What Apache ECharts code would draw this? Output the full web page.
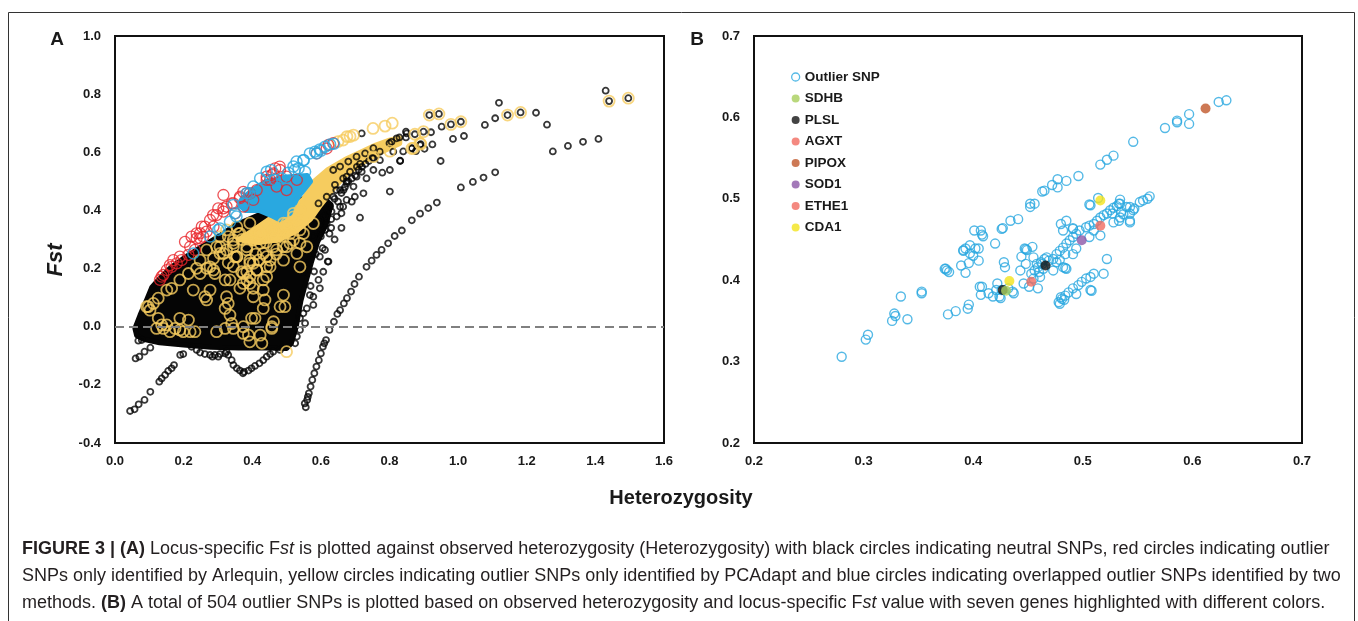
<!DOCTYPE html>
<html>
<head>
<meta charset="utf-8">
<title>Figure 3</title>
<script src="https://cdn.jsdelivr.net/npm/echarts@6.0.0/dist/echarts.min.js"></script>
<style>
  html, body { margin: 0; background: #fff; }
  #chart { width: 1358px; height: 621px; }
</style>
</head>
<body>
<div id="chart"></div>
<script>
// ---- panel A: heterozygosity vs Fst ----
// dense core of neutral SNPs (outline of the solid black cloud)
const neutralCore = [[0.058,-0.006],[0.073,0.040],[0.092,0.092],[0.107,0.135],[0.126,0.161],[0.160,0.201],[0.199,0.235],[0.238,0.264],[0.277,0.293],[0.316,0.321],[0.350,0.350],[0.420,0.385],[0.500,0.420],[0.560,0.445],[0.600,0.450],[0.630,0.420],[0.615,0.350],[0.590,0.290],[0.572,0.220],[0.558,0.160],[0.542,0.090],[0.528,0.000],[0.514,-0.057],[0.500,-0.075],[0.440,-0.073],[0.360,-0.073],[0.280,-0.071],[0.200,-0.063],[0.130,-0.055],[0.083,-0.043],[0.063,-0.030]];

const neutralPoints = [
  [0.044,-0.290],[0.057,-0.284],[0.069,-0.267],[0.086,-0.252],[0.103,-0.224],[0.129,-0.189],[0.136,-0.178],[0.146,-0.166],[0.155,-0.152],[0.165,-0.143],[0.172,-0.132],[0.190,-0.097],[0.199,-0.094],[0.060,-0.109],[0.071,-0.103],[0.086,-0.086],[0.103,-0.072],[0.068,-0.048],[0.078,-0.046],
  [0.223,-0.069],[0.238,-0.080],[0.248,-0.089],[0.262,-0.094],[0.277,-0.097],[0.291,-0.097],[0.306,-0.094],[0.321,-0.092],[0.330,-0.097],[0.340,-0.115],[0.345,-0.132],[0.355,-0.143],[0.364,-0.151],[0.376,-0.155],[0.389,-0.151],[0.398,-0.143],[0.408,-0.135],[0.421,-0.126],[0.432,-0.115],[0.442,-0.103],[0.452,-0.094],[0.461,-0.086],[0.481,-0.080],[0.325,-0.086],[0.301,-0.103],[0.284,-0.103],[0.373,-0.160],
  [0.556,-0.277],[0.553,-0.264],[0.560,-0.252],[0.562,-0.241],[0.565,-0.229],[0.570,-0.206],[0.575,-0.183],[0.581,-0.160],[0.587,-0.137],[0.594,-0.115],[0.600,-0.092],[0.606,-0.069],[0.610,-0.057],[0.615,-0.046],[0.625,-0.011],[0.638,0.017],[0.648,0.044],[0.656,0.057],[0.667,0.080],[0.676,0.098],[0.688,0.121],[0.698,0.147],[0.711,0.172],[0.733,0.206],[0.748,0.227],[0.762,0.247],[0.777,0.264],[0.796,0.287],[0.815,0.312],[0.836,0.331],[0.865,0.366],[0.889,0.389],[0.913,0.408],[0.938,0.427],[1.008,0.479],[1.043,0.498],[1.074,0.513],[1.108,0.531],
  [1.430,0.812],[1.440,0.776],[1.496,0.786],[1.119,0.770],[1.108,0.717],[1.078,0.694],[1.182,0.737],[1.144,0.728],[1.227,0.736],[1.259,0.695],[1.276,0.603],[1.320,0.622],[1.364,0.636],[1.409,0.646],[1.008,0.705],[0.979,0.696],[0.952,0.688],[0.944,0.732],[0.916,0.728],[0.899,0.671],[0.874,0.662],[0.848,0.671],[0.848,0.651],[0.921,0.669],[0.925,0.627],[0.891,0.628],[0.865,0.613],[0.877,0.604],[0.902,0.612],[0.840,0.603],[0.985,0.646],[1.017,0.656],[0.949,0.570],[0.831,0.570],
  [0.719,0.665],[0.800,0.631],[0.806,0.636],[0.829,0.651],[0.850,0.665],[0.772,0.573],[0.753,0.539],[0.779,0.530],[0.801,0.539],[0.831,0.571],[0.714,0.560],[0.719,0.533],[0.685,0.533],[0.733,0.510],[0.665,0.510],[0.801,0.465],[0.714,0.375],[0.675,0.436],[0.724,0.459],[0.620,0.224],[0.593,0.161],[0.646,0.379],[0.656,0.413],[0.617,0.356],[0.636,0.447],[0.666,0.470],[0.695,0.482],[0.704,0.516],[0.699,0.447],[0.665,0.413],[0.631,0.396],[0.675,0.493],[0.753,0.579],[0.772,0.602],[0.821,0.648],[0.811,0.602],[0.889,0.625],[0.865,0.614],
  [0.622,0.224],[0.568,0.109],[0.559,0.063],[0.539,0.029],[0.539,-0.011],[0.554,0.012],[0.578,0.103],[0.607,0.189],[0.597,0.132],[0.530,-0.034],[0.525,-0.057],[0.549,0.046],[0.578,0.075],[0.568,0.230],[0.597,0.241],[0.612,0.264],[0.640,0.300],[0.660,0.340],[0.600,0.310],[0.630,0.340],
  [0.620,0.400],[0.640,0.440],[0.660,0.460],[0.680,0.500],[0.700,0.520],[0.720,0.550],[0.740,0.570],[0.630,0.370],[0.650,0.430],[0.670,0.480],[0.690,0.510],[0.710,0.540],[0.730,0.560],[0.750,0.580],[0.610,0.380],[0.645,0.470],[0.675,0.500],[0.705,0.550],[0.660,0.390],[0.690,0.430],[0.600,0.330],[0.625,0.320],[0.605,0.270],[0.585,0.250],[0.580,0.190],[0.570,0.140],
  [0.636,0.539],[0.656,0.551],[0.680,0.568],[0.704,0.585],[0.729,0.596],[0.753,0.614],[0.675,0.516],[0.641,0.488],[0.617,0.447],[0.593,0.424],[0.656,0.470],[0.627,0.413],[0.597,0.367],[0.612,0.333],[0.578,0.310],[0.568,0.264],[0.558,0.218],[0.549,0.189]
];

// solid part of the PCAdapt-only band
const pcadaptBand = [[0.360,0.300],[0.400,0.330],[0.450,0.370],[0.500,0.390],[0.550,0.440],[0.580,0.500],[0.620,0.540],[0.670,0.575],[0.720,0.603],[0.760,0.625],[0.800,0.642],[0.830,0.650],[0.830,0.630],[0.780,0.603],[0.730,0.570],[0.680,0.530],[0.640,0.480],[0.600,0.420],[0.570,0.370],[0.530,0.330],[0.480,0.300],[0.420,0.290]];

const pcadaptPoints = [
  [0.097,0.069],[0.112,0.080],[0.126,0.098],[0.151,0.126],[0.165,0.132],[0.189,0.161],[0.214,0.183],[0.228,0.126],[0.238,0.201],[0.267,0.201],[0.287,0.235],[0.291,0.183],[0.262,0.103],[0.267,0.092],[0.277,0.126],[0.321,0.161],[0.325,0.103],[0.330,0.080],[0.321,0.063],[0.335,0.040],[0.340,0.011],[0.345,-0.006],[0.364,0.132],[0.384,0.161],[0.403,0.132],[0.403,0.103],[0.432,0.126],[0.437,0.092],[0.432,0.063],[0.491,0.109],[0.481,0.069],[0.495,0.069],[0.462,0.017],[0.457,0.000],[0.398,0.029],[0.408,0.029],[0.374,0.000],[0.374,-0.023],[0.389,-0.029],[0.423,-0.029],[0.393,-0.052],[0.428,-0.057],[0.296,-0.017],[0.321,-0.006],[0.126,0.029],[0.121,-0.006],[0.141,-0.006],[0.151,0.006],[0.160,-0.017],[0.175,-0.006],[0.189,0.029],[0.189,-0.011],[0.199,-0.017],[0.214,0.023],[0.219,-0.017],[0.233,-0.017],[0.136,0.006],[0.102,0.057],[0.092,0.069],[0.500,-0.086],[0.457,-0.006],
  [0.306,0.275],[0.345,0.287],[0.355,0.241],[0.384,0.189],[0.369,0.189],[0.403,0.218],[0.442,0.206],[0.452,0.229],[0.462,0.275],[0.500,0.275],[0.520,0.298],[0.539,0.333],[0.325,0.264],[0.384,0.264],[0.423,0.287],[0.413,0.321],[0.462,0.333],[0.491,0.356],[0.355,0.344],[0.393,0.356],[0.520,0.390],[0.374,0.149],[0.393,0.172],[0.442,0.172],[0.413,0.195],
  [0.267,0.264],[0.306,0.252],[0.345,0.275],[0.384,0.304],[0.423,0.321],[0.461,0.333],[0.500,0.344],[0.529,0.367],[0.287,0.195],[0.345,0.207],[0.393,0.218],[0.442,0.241],[0.490,0.275],[0.539,0.287],[0.432,0.161],
  [0.330,0.310],[0.360,0.320],[0.370,0.300],[0.400,0.300],[0.440,0.290],[0.470,0.310],[0.510,0.320],[0.350,0.240],[0.410,0.250],[0.470,0.250],[0.330,0.220],[0.420,0.230],
  [0.306,0.310],[0.325,0.333],[0.345,0.298],[0.364,0.321],[0.384,0.275],[0.403,0.298],[0.423,0.321],[0.442,0.344],[0.462,0.310],[0.481,0.333],[0.500,0.356],[0.520,0.378],[0.539,0.401],[0.316,0.252],[0.355,0.241],[0.393,0.229],[0.432,0.252],[0.471,0.264],[0.510,0.287],[0.549,0.321],[0.578,0.355],[0.374,0.183],[0.413,0.195],[0.452,0.206],[0.491,0.229],[0.530,0.252],[0.335,0.161],[0.393,0.149],[0.277,0.206],[0.248,0.183],[0.296,0.275],[0.248,0.229],[0.559,0.275],[0.539,0.206],
  [0.752,0.682],[0.787,0.690],[0.808,0.700],[0.695,0.659],[0.676,0.654],[0.650,0.637],[0.665,0.642],[0.685,0.654],[0.753,0.585],[0.801,0.604],[0.870,0.614],[0.889,0.631],
  [1.440,0.776],[1.496,0.786],[1.182,0.737],[1.144,0.728],[1.008,0.705],[0.979,0.696],[0.944,0.732],[0.916,0.728],[0.899,0.671],[0.874,0.662],[0.891,0.628],[0.865,0.613]
];

const arlequinPoints = [[0.131,0.161],[0.141,0.178],[0.151,0.195],[0.165,0.206],[0.180,0.218],[0.194,0.229],[0.214,0.247],[0.233,0.264],[0.223,0.310],[0.248,0.304],[0.267,0.327],[0.287,0.344],[0.296,0.384],[0.316,0.396],[0.325,0.413],[0.170,0.229],[0.204,0.292],[0.238,0.321],[0.253,0.344],[0.277,0.367],[0.301,0.407],[0.136,0.172],[0.160,0.212],[0.189,0.241],[0.219,0.275],[0.238,0.304],[0.248,0.321],[0.345,0.424],[0.364,0.447],[0.384,0.459],[0.413,0.470],[0.442,0.516],[0.462,0.527],[0.481,0.539],[0.500,0.516],[0.530,0.505],[0.588,0.596],[0.617,0.613],[0.636,0.631],[0.316,0.453],[0.374,0.464],[0.403,0.436],[0.452,0.505],[0.471,0.482],[0.500,0.470],[0.467,0.545],[0.480,0.551],[0.457,0.522],[0.622,0.625],[0.364,0.442],[0.340,0.424],[0.316,0.407],[0.286,0.384],[0.262,0.344],[0.257,0.310],[0.350,0.390],[0.393,0.459],[0.374,0.413],[0.442,0.505]];

// dense overlap cloud (both methods)
const overlapCore = [[0.365,0.415],[0.370,0.440],[0.400,0.470],[0.440,0.500],[0.500,0.515],[0.560,0.520],[0.570,0.500],[0.530,0.440],[0.510,0.390],[0.480,0.368],[0.460,0.380],[0.420,0.400],[0.380,0.400]];

const overlapPoints = [[0.568,0.596],[0.583,0.602],[0.597,0.610],[0.612,0.619],[0.627,0.627],[0.638,0.629],[0.549,0.573],[0.529,0.568],[0.520,0.551],[0.554,0.533],[0.486,0.510],[0.466,0.505],[0.442,0.533],[0.423,0.510],[0.403,0.482],[0.384,0.459],[0.374,0.424],[0.354,0.379],[0.335,0.361],[0.306,0.338],[0.345,0.419],[0.228,0.252],[0.277,0.310],[0.301,0.333],[0.350,0.390],[0.587,0.596],[0.550,0.573],[0.524,0.539],[0.455,0.539],[0.392,0.459],[0.505,0.530],[0.535,0.545],[0.600,0.605]];

// ---- panel B: 504 outlier SNPs ----
const outlierSnps = [
  [0.280,0.306],[0.302,0.327],[0.304,0.333],[0.326,0.350],[0.328,0.359],[0.329,0.356],[0.340,0.352],[0.334,0.380],[0.353,0.386],[0.353,0.384],[0.377,0.358],[0.384,0.362],[0.395,0.365],[0.396,0.370],[0.374,0.414],[0.376,0.412],[0.378,0.410],[0.375,0.414],[0.389,0.418],[0.393,0.409],[0.391,0.437],[0.393,0.439],[0.397,0.443],[0.402,0.439],[0.391,0.436],[0.397,0.433],[0.405,0.439],[0.400,0.430],[0.405,0.424],[0.396,0.421],[0.401,0.461],[0.407,0.461],[0.409,0.454],[0.408,0.456],[0.420,0.445],[0.426,0.463],[0.427,0.464],[0.434,0.473],[0.441,0.475],[0.452,0.494],[0.452,0.490],[0.456,0.494],[0.463,0.509],[0.465,0.510],[0.472,0.517],[0.477,0.514],[0.477,0.524],[0.485,0.522],[0.496,0.528],[0.516,0.542],[0.522,0.548],[0.528,0.553],[0.546,0.570],[0.575,0.587],[0.586,0.594],[0.586,0.596],[0.597,0.592],[0.597,0.604],[0.624,0.619],[0.631,0.621],
  [0.406,0.392],[0.408,0.392],[0.407,0.382],[0.414,0.384],[0.418,0.380],[0.421,0.388],[0.426,0.388],[0.432,0.390],[0.424,0.380],[0.425,0.378],[0.422,0.396],[0.428,0.422],[0.429,0.416],[0.437,0.384],[0.436,0.386],[0.443,0.412],[0.446,0.396],[0.448,0.420],[0.447,0.439],[0.454,0.441],[0.449,0.437],[0.455,0.428],[0.459,0.390],[0.451,0.392],[0.444,0.429],[0.448,0.438],
  [0.453,0.408],[0.456,0.412],[0.459,0.416],[0.462,0.422],[0.465,0.426],[0.461,0.404],[0.455,0.402],[0.458,0.420],[0.463,0.420],[0.467,0.428],[0.469,0.424],[0.460,0.410],[0.464,0.414],
  [0.473,0.426],[0.476,0.432],[0.479,0.436],[0.482,0.440],[0.485,0.445],[0.488,0.449],[0.491,0.453],[0.494,0.457],[0.497,0.461],[0.503,0.465],[0.506,0.467],[0.510,0.469],[0.513,0.473],[0.516,0.477],[0.519,0.480],[0.522,0.482],[0.525,0.486],[0.528,0.489],[0.531,0.491],[0.534,0.494],[0.540,0.490],[0.546,0.486],[0.552,0.496],[0.559,0.500],[0.561,0.503],[0.543,0.490],[0.543,0.482],[0.535,0.484],[0.543,0.471],[0.533,0.473],[0.527,0.482],[0.534,0.499],[0.533,0.494],[0.547,0.488],[0.555,0.498],
  [0.476,0.422],[0.482,0.416],[0.485,0.414],[0.491,0.432],[0.494,0.439],[0.506,0.453],[0.510,0.461],[0.516,0.455],[0.522,0.426],[0.519,0.408],[0.528,0.471],[0.534,0.477],[0.537,0.481],[0.543,0.473],[0.507,0.492],[0.491,0.463],[0.482,0.461],[0.480,0.469],[0.485,0.473],[0.491,0.464],[0.484,0.415],[0.484,0.432],[0.479,0.425],[0.473,0.412],[0.506,0.493],[0.514,0.501],
  [0.478,0.373],[0.479,0.371],[0.481,0.377],[0.484,0.381],[0.487,0.385],[0.491,0.390],[0.494,0.383],[0.496,0.394],[0.499,0.398],[0.503,0.402],[0.507,0.404],[0.507,0.388],[0.510,0.408],[0.508,0.387],[0.480,0.379],[0.483,0.376]
];

const geneNames = ['SDHB', 'PLSL', 'AGXT', 'PIPOX', 'SOD1', 'ETHE1', 'CDA1'];
const genePoints = [
  [[0.430, 0.387]],
  [[0.427, 0.388], [0.466, 0.418]],
  [[0.453, 0.398]],
  [[0.612, 0.611]],
  [[0.499, 0.449]],
  [[0.516, 0.467]],
  [[0.433, 0.399], [0.516, 0.498]]
];

const xTicksA = { min: 0, max: 1.6, step: 0.2 };
const yTicksA = { min: -0.4, max: 1.0, step: 0.2 };
const xTicksB = { min: 0.2, max: 0.7, step: 0.1 };
const yTicksB = { min: 0.2, max: 0.7, step: 0.1 };

// ---- styling ----
const FONT = '"Liberation Sans", Arial, Helvetica, sans-serif';
const INK = '#1a1a1a';
const BLUE = '#29a8e0';
const YELLOW = '#f6cc5f';
const RED = '#e8262b';
const geneColors = ['#a7ce5b', '#141414', '#f16b60', '#c1582a', '#8c58a7', '#f16b60', '#f2e41b'];

const chart = echarts.init(document.getElementById('chart'), null, { renderer: 'canvas' });

function tickLabel(margin) {
  return {
    margin,
    fontFamily: FONT,
    fontWeight: 'bold',
    fontSize: 13,
    color: INK,
    formatter: (v) => v.toFixed(1),
  };
}

function makeAxis(gridIndex, ticks, margin) {
  return {
    type: 'value',
    gridIndex,
    min: ticks.min,
    max: ticks.max,
    interval: ticks.step,
    axisLine: { show: true, onZero: false, lineStyle: { color: '#111', width: 2 } },
    axisTick: { show: false },
    splitLine: { show: false },
    axisLabel: tickLabel(margin),
  };
}

function ring(name, data, color, size, width, gridIndex) {
  return {
    type: 'scatter',
    name,
    xAxisIndex: gridIndex,
    yAxisIndex: gridIndex,
    data,
    symbol: 'circle',
    symbolSize: size,
    silent: true,
    itemStyle: { color: 'rgba(0,0,0,0)', borderColor: color, borderWidth: width },
  };
}

function cloud(name, outline, color) {
  return {
    type: 'custom',
    name,
    xAxisIndex: 0,
    yAxisIndex: 0,
    silent: true,
    data: [outline[0]],
    renderItem: (params, api) => ({
      type: 'polygon',
      shape: { points: outline.map((p) => api.coord(p)) },
      style: { fill: color, stroke: color, lineWidth: 5, lineJoin: 'round' },
    }),
  };
}

const geneSeries = geneNames.map((name, i) => ({
  type: 'scatter',
  name,
  xAxisIndex: 1,
  yAxisIndex: 1,
  data: genePoints[i],
  symbol: 'circle',
  symbolSize: 10,
  z: name === 'SDHB' ? 4 : 3,
  silent: true,
  itemStyle: { color: geneColors[i] },
}));

const CAPTION_SIZE = 18;
const captionStyle = {
  fontFamily: FONT,
  fontSize: CAPTION_SIZE,
  fill: '#231f20',
  verticalAlign: 'middle',
  rich: {
    b: { fontFamily: FONT, fontSize: CAPTION_SIZE, fontWeight: 'bold', color: '#231f20' },
    i: { fontFamily: FONT, fontSize: CAPTION_SIZE, fontStyle: 'italic', color: '#231f20' },
  },
};

const captionLines = [
  '{b|FIGURE 3 | (A)} Locus-specific F{i|st} is plotted against observed heterozygosity (Heterozygosity) with black circles indicating neutral SNPs, red circles indicating outlier',
  'SNPs only identified by Arlequin, yellow circles indicating outlier SNPs only identified by PCAdapt and blue circles indicating overlapped outlier SNPs identified by two',
  'methods. {b|(B)} A total of 504 outlier SNPs is plotted based on observed heterozygosity and locus-specific F{i|st} value with seven genes highlighted with different colors.',
];

chart.setOption({
  animation: false,
  backgroundColor: '#fff',
  grid: [
    { left: 115, top: 36, width: 549, height: 407, show: true, borderColor: '#111', borderWidth: 2, containLabel: false },
    { left: 754, top: 36, width: 548, height: 407, show: true, borderColor: '#111', borderWidth: 2, containLabel: false },
  ],
  xAxis: [makeAxis(0, xTicksA, 12), makeAxis(1, xTicksB, 12)],
  yAxis: [makeAxis(0, yTicksA, 14), makeAxis(1, yTicksB, 14)],
  legend: {
    left: 791,
    top: 70,
    padding: 0,
    orient: 'vertical',
    itemWidth: 8,
    itemHeight: 8,
    itemGap: 7.5,
    selectedMode: false,
    textStyle: { fontFamily: FONT, fontWeight: 'bold', fontSize: 13.5, color: INK, lineHeight: 14 },
    data: [
      { name: 'Outlier SNP', icon: 'circle', itemStyle: { color: '#fff', borderColor: BLUE, borderWidth: 1.3 } },
      ...geneNames.map((name) => ({ name, icon: 'circle' })),
    ],
  },
  graphic: [
    { type: 'rect', silent: true, shape: { x: 8.5, y: 12.5, width: 1346, height: 640 }, style: { fill: null, stroke: '#333', lineWidth: 1 } },
    { type: 'text', x: 57, y: 40, style: { text: 'A', fontFamily: FONT, fontWeight: 'bold', fontSize: 19, fill: INK, align: 'center', verticalAlign: 'middle' } },
    { type: 'text', x: 697, y: 40, style: { text: 'B', fontFamily: FONT, fontWeight: 'bold', fontSize: 19, fill: INK, align: 'center', verticalAlign: 'middle' } },
    { type: 'text', x: 56, y: 260, rotation: Math.PI / 2, style: { text: 'Fst', fontFamily: FONT, fontWeight: 'bold', fontStyle: 'italic', fontSize: 22, fill: INK, align: 'center', verticalAlign: 'middle' } },
    { type: 'text', x: 681, y: 498, style: { text: 'Heterozygosity', fontFamily: FONT, fontWeight: 'bold', fontSize: 20, fill: INK, align: 'center', verticalAlign: 'middle' } },
    ...captionLines.map((text, i) => ({
      type: 'text',
      x: 22,
      y: 549 + i * 27,
      style: Object.assign({ text }, captionStyle),
    })),
  ],
  series: [
    {
      type: 'scatter',
      name: 'zero',
      xAxisIndex: 0,
      yAxisIndex: 0,
      data: [],
      markLine: {
        silent: true,
        symbol: 'none',
        label: { show: false },
        lineStyle: { color: '#808080', type: [9, 5], width: 2 },
        data: [{ yAxis: 0 }],
      },
    },
    cloud('neutral core', neutralCore, '#050505'),
    ring('neutral', neutralPoints, '#050505', 6, 1.8, 0),
    cloud('pcadapt band', pcadaptBand, YELLOW),
    ring('pcadapt', pcadaptPoints, YELLOW, 11, 1.8, 0),
    ring('arlequin', arlequinPoints, RED, 11, 1.3, 0),
    cloud('overlap core', overlapCore, BLUE),
    ring('overlap', overlapPoints, BLUE, 11, 1.5, 0),
    ring('Outlier SNP', outlierSnps, BLUE, 9, 1.4, 1),
    ...geneSeries,
  ],
});

window.addEventListener('resize', () => chart.resize());
</script>
</body>
</html>
